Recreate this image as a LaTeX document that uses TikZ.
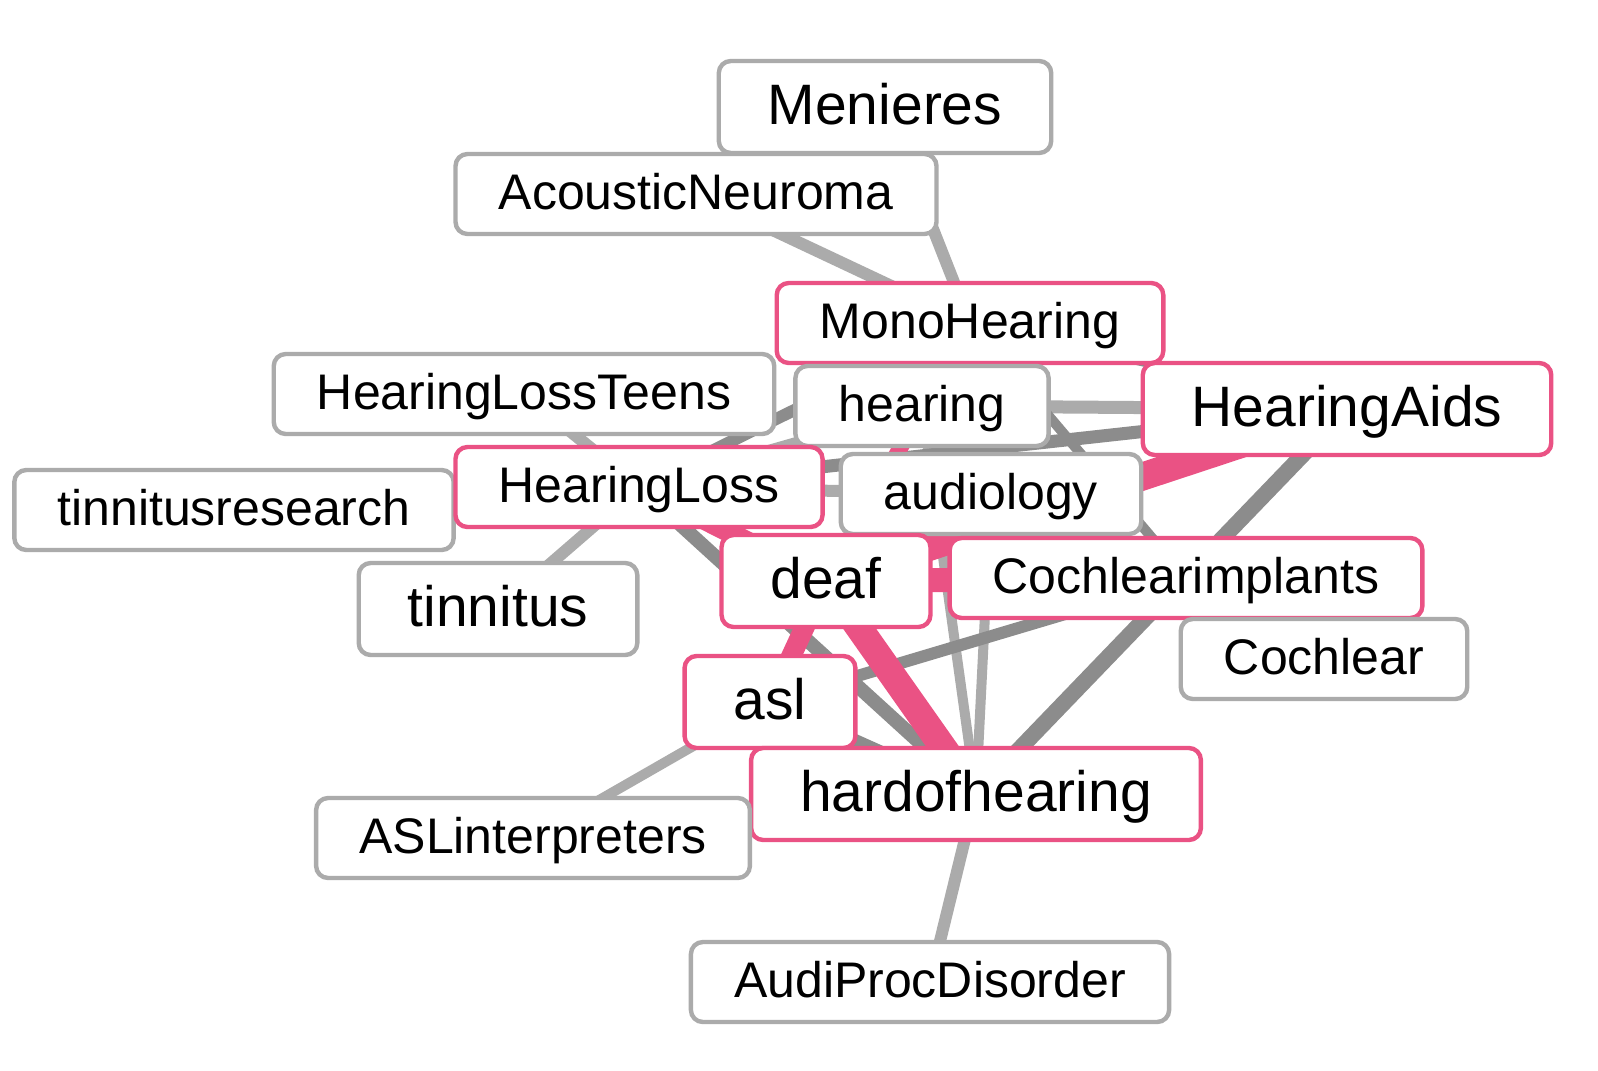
\documentclass[tikz,border=0pt]{standalone}
\usepackage{fontspec}
\setmainfont{Liberation Sans}
\usepackage{xcolor}
\usetikzlibrary{backgrounds}
\definecolor{tagpink}{HTML}{EA5284}
\definecolor{tagline}{HTML}{ABABAB}
\definecolor{linkdark}{HTML}{8C8C8C}

\begin{document}
\begin{tikzpicture}[x=0.5pt,y=-0.5pt]
\tikzstyle{tag}=[draw=tagline,line width=2.2pt,fill=white,rounded corners=6pt,inner ysep=0pt]
\tikzstyle{hottag}=[tag,draw=tagpink]
\tikzstyle{smalltxt}=[font=\fontsize{25}{30}\selectfont,inner xsep=21.6pt,minimum height=40pt,text height=20pt,text depth=5pt]
\tikzstyle{bigtxt}=[font=\fontsize{28.5}{34}\selectfont,inner xsep=24.5pt,minimum height=46pt,text height=22.8pt,text depth=5.7pt]
\tikzstyle{litelink}=[draw=tagline,line width=6pt]
\tikzstyle{darklink}=[draw=linkdark,line width=6pt]
\tikzstyle{pinklink}=[draw=tagpink,line width=10pt]
\useasboundingbox (0,0) rectangle (1598,1070);
\node[tag,bigtxt] (menieres) at (885,107) {Menieres};
\node[tag,smalltxt] (acoustic) at (696,194) {AcousticNeuroma};
\node[hottag,smalltxt] (mono) at (970,323) {MonoHearing};
\node[tag,smalltxt] (teens) at (524,394) {HearingLossTeens};
\node[tag,smalltxt] (hearing) at (922,406) {hearing};
\node[hottag,bigtxt] (aids) at (1347,409) {HearingAids};
\node[tag,smalltxt] (tinres) at (234,510) {tinnitusresearch};
\node[hottag,smalltxt] (loss) at (639,487) {HearingLoss};
\node[tag,smalltxt] (audio) at (991,494) {audiology};
\node[hottag,bigtxt] (deaf) at (826,581) {deaf};
\node[hottag,smalltxt] (implants) at (1186,578) {Cochlearimplants};
\node[tag,bigtxt] (tinnitus) at (498,609) {tinnitus};
\node[tag,smalltxt] (cochlear) at (1324,659) {Cochlear};
\node[hottag,bigtxt] (asl) at (770,702) {asl};
\node[hottag,bigtxt] (hoh) at (976,794) {hardofhearing};
\node[tag,smalltxt] (interp) at (533,838) {ASLinterpreters};
\node[tag,smalltxt] (apd) at (930,982) {AudiProcDisorder};
\begin{scope}[on background layer]
\draw[litelink] (menieres.center)--(mono.center);
\draw[litelink] (acoustic.center)--(mono.center);
\draw[litelink] (teens.center)--(loss.center);
\draw[litelink] (tinnitus.center)--(loss.center);
\draw[litelink,line width=5pt] (interp.center)--(asl.center);
\draw[litelink] (apd.center)--(hoh.center);
\draw[litelink,line width=5pt] (loss.center)--(hearing.center);
\draw[litelink] (loss.center)--(audio.center);
\draw[litelink,line width=6.5pt] (hearing.center)--(aids.center);
\draw[litelink,line width=5pt] (hearing.center)--(hoh.center);
\draw[litelink,line width=5pt] (audio.center)--(hoh.center);
\draw[litelink,line width=4pt] (mono.center)--(audio.center);
\draw[darklink,line width=4pt] (mono.center)--(aids.center);
\draw[darklink] (loss.center)--(mono.center);
\draw[darklink,line width=6.5pt] (loss.center)--(aids.center);
\draw[darklink,line width=5pt] (mono.center)--(implants.center);
\draw[darklink,line width=8pt] (hoh.center)--(aids.center);
\draw[darklink] (asl.center)--(implants.center);
\draw[darklink,line width=7pt] (loss.center)--(hoh.center);
\draw[darklink] (asl.center)--(hoh.center);
\draw[pinklink] (loss.center)--(deaf.center);
\draw[pinklink,line width=8pt] (deaf.center)--(mono.center);
\draw[pinklink,line width=12pt] (deaf.center)--(implants.center);
\draw[pinklink,line width=14pt] (deaf.center)--(aids.center);
\draw[pinklink] (deaf.center)--(asl.center);
\draw[pinklink,line width=13.5pt] (deaf.center)--(hoh.center);
\end{scope}
\end{tikzpicture}
\end{document}
